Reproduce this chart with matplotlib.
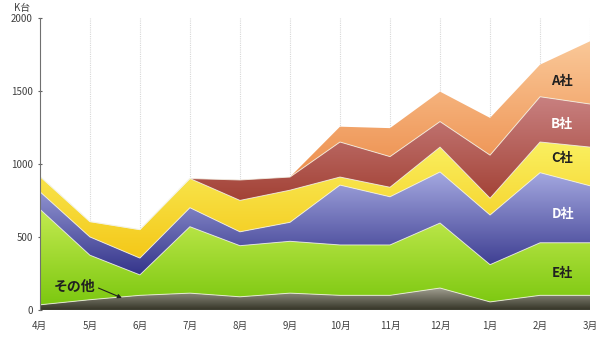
import numpy as np
import matplotlib.pyplot as plt
from matplotlib.colors import LinearSegmentedColormap

plt.rcParams['font.family'] = ['Noto Sans CJK JP', 'DejaVu Sans']

# データ (K台)
months = ['4月', '5月', '6月', '7月', '8月', '9月', '10月', '11月', '12月', '1月', '2月', '3月']
sonota = [35, 70, 100, 115, 90, 115, 100, 100, 150, 55, 100, 100]
e_sha = [655, 305, 140, 455, 350, 355, 345, 345, 445, 255, 360, 360]
d_sha = [120, 125, 115, 130, 95, 130, 410, 330, 350, 340, 480, 390]
c_sha = [105, 105, 195, 200, 215, 220, 55, 65, 170, 115, 210, 265]
b_sha = [0, 0, 0, 0, 140, 90, 240, 210, 175, 295, 310, 295]
a_sha = [0, 0, 0, 0, 0, 0, 105, 195, 205, 255, 220, 430]

series = [sonota, e_sha, d_sha, c_sha, b_sha, a_sha]
# グラデーション (下の色, 上の色)
iro = [("#343426", "#a09e90"),
       ("#7cc810", "#c4ea50"),
       ("#34348a", "#a4a8e0"),
       ("#f4c818", "#faf060"),
       ("#983020", "#c88080"),
       ("#e87830", "#fac898")]

fig = plt.figure(figsize=(6.04, 3.44), dpi=100)
ax = fig.add_axes([0.066, 0.099, 0.911, 0.849])

x = np.arange(len(months))

# 縦のグリッド線
for xi in x[1:]:
    ax.axvline(xi, color='#d8d8d8', linewidth=0.8, linestyle=(0, (1, 1)), zorder=1)

grad = np.linspace(0, 1, 256).reshape(-1, 1)
bottom = np.zeros(len(months))
for vals, (c0, c1) in zip(series, iro):
    top = bottom + np.array(vals)
    poly = ax.fill_between(x, bottom, top, facecolor='none', edgecolor='none')
    lo, hi = bottom.min(), top.max()
    cmap = LinearSegmentedColormap.from_list('g', [c0, c1])
    im = ax.imshow(grad, extent=[0, 11, lo, hi], origin='lower', aspect='auto',
                   cmap=cmap, zorder=2, interpolation='bilinear')
    im.set_clip_path(poly.get_paths()[0], transform=ax.transData)
    bottom = top

# 境界の白い線
bottom = np.zeros(len(months))
for vals in series[:-1]:
    bottom = bottom + np.array(vals)
    ax.plot(x, bottom, color='#f4f4e8', linewidth=0.7, alpha=0.8, zorder=3)

ax.set_xlim(0, 11)
ax.set_ylim(0, 2000)
ax.set_xticks(x)
ax.set_xticklabels(months)
ax.set_yticks([0, 500, 1000, 1500, 2000])
ax.tick_params(axis='x', length=0, labelsize=7, colors='#404040', pad=8)
ax.tick_params(axis='y', direction='inout', length=3, labelsize=7, colors='#606060', labelcolor='#404040')
for s in ['top', 'right', 'bottom']:
    ax.spines[s].set_visible(False)
ax.spines['left'].set_color('#707070')
ax.spines['left'].set_linewidth(0.8)
ax.spines['left'].set_zorder(4)

fig.text(0.036, 0.977, 'K台', fontsize=7, color='#404040', ha='center', va='center')

# 社名ラベル
ax.text(10.44, 1568, 'A社', fontsize=9.5, fontweight='bold', color='#202020', ha='center', va='center', zorder=5)
ax.text(10.44, 1274, 'B社', fontsize=9.5, fontweight='bold', color='white', ha='center', va='center', zorder=5)
ax.text(10.44, 1041, 'C社', fontsize=9.5, fontweight='bold', color='#202020', ha='center', va='center', zorder=5)
ax.text(10.46, 658, 'D社', fontsize=9.5, fontweight='bold', color='white', ha='center', va='center', zorder=5)
ax.text(10.44, 253, 'E社', fontsize=9.5, fontweight='bold', color='#202020', ha='center', va='center', zorder=5)
ax.annotate('その他', xy=(1.64, 82), xytext=(0.7, 158), fontsize=10, fontweight='bold',
            color='#202020', ha='center', va='center', zorder=5,
            arrowprops=dict(arrowstyle='-|>', color='#202020', lw=0.8, mutation_scale=6,
                            shrinkA=0, shrinkB=0, relpos=(1.0, 0.5)))

plt.savefig('out.png', dpi=100)
